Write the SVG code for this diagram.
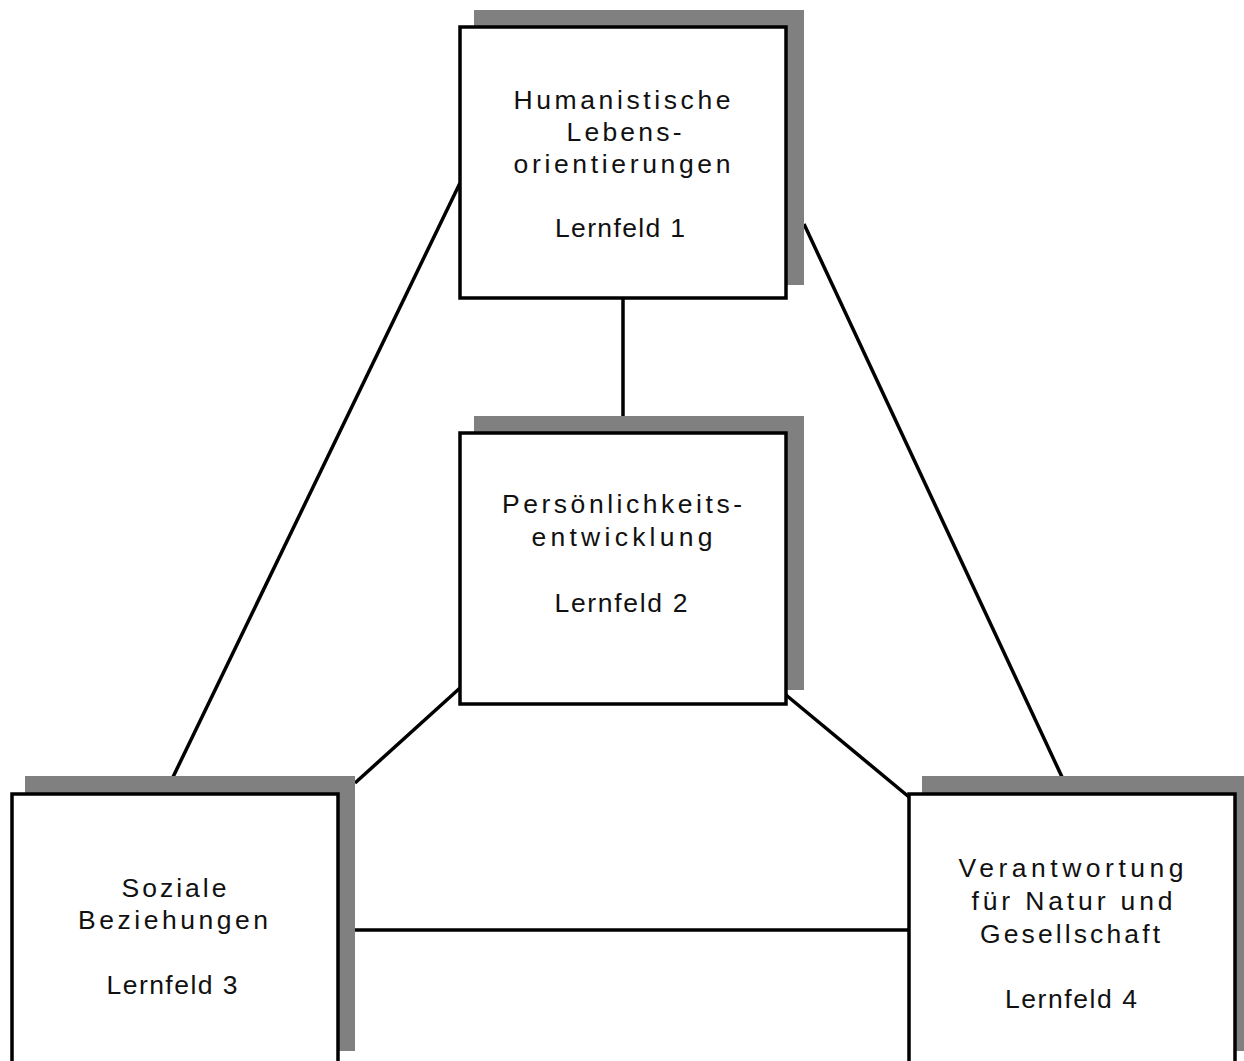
<svg xmlns="http://www.w3.org/2000/svg" width="1244" height="1061" viewBox="0 0 1244 1061">
<style>
.shadow{fill:#808080;stroke:none}
.box{fill:#fff;stroke:#000;stroke-width:3.5}
.lbl{font-family:"Liberation Sans",Arial,sans-serif;font-size:26.5px;fill:#111;text-anchor:middle}
.con line{stroke:#000;stroke-width:3.5}
</style>
<rect width="1244" height="1061" fill="#fff"/>
<g id="connectors" class="con">
<line x1="460" y1="183" x2="173" y2="777"/>
<line x1="804" y1="224" x2="1062" y2="777"/>
<line x1="623" y1="298" x2="623" y2="416"/>
<line x1="460" y1="688" x2="355" y2="783"/>
<line x1="786" y1="695" x2="909" y2="797"/>
<line x1="355" y1="930" x2="909" y2="930"/>
</g>
<g id="node1">
<rect class="shadow" x="474" y="10" width="330" height="275"/>
<rect class="box" x="460" y="27" width="326" height="271"/>
<text class="lbl" x="622" y="109" textLength="217" lengthAdjust="spacing">Humanistische</text>
<text class="lbl" x="624" y="141" textLength="115" lengthAdjust="spacing">Lebens-</text>
<text class="lbl" x="622" y="173" textLength="217" lengthAdjust="spacing">orientierungen</text>
<text class="lbl" x="620" y="237" textLength="130" lengthAdjust="spacing">Lernfeld 1</text>
</g>
<g id="node2">
<rect class="shadow" x="474" y="416" width="330" height="274"/>
<rect class="box" x="460" y="433" width="326" height="271"/>
<text class="lbl" x="622" y="513" textLength="240" lengthAdjust="spacing">Persönlichkeits-</text>
<text class="lbl" x="622" y="546" textLength="181" lengthAdjust="spacing">entwicklung</text>
<text class="lbl" x="621" y="612" textLength="133" lengthAdjust="spacing">Lernfeld 2</text>
</g>
<g id="node3">
<rect class="shadow" x="25" y="776" width="330" height="275"/>
<rect class="box" x="12" y="794" width="326" height="280"/>
<text class="lbl" x="174" y="897" textLength="105" lengthAdjust="spacing">Soziale</text>
<text class="lbl" x="173" y="929" textLength="190" lengthAdjust="spacing">Beziehungen</text>
<text class="lbl" x="172" y="994" textLength="131" lengthAdjust="spacing">Lernfeld 3</text>
</g>
<g id="node4">
<rect class="shadow" x="922" y="776" width="330" height="275"/>
<rect class="box" x="909" y="794" width="326" height="280"/>
<text class="lbl" x="1071" y="877" textLength="225" lengthAdjust="spacing">Verantwortung</text>
<text class="lbl" x="1072" y="910" textLength="201" lengthAdjust="spacing">für Natur und</text>
<text class="lbl" x="1070" y="943" textLength="180" lengthAdjust="spacing">Gesellschaft</text>
<text class="lbl" x="1071" y="1008" textLength="132" lengthAdjust="spacing">Lernfeld 4</text>
</g>
</svg>
